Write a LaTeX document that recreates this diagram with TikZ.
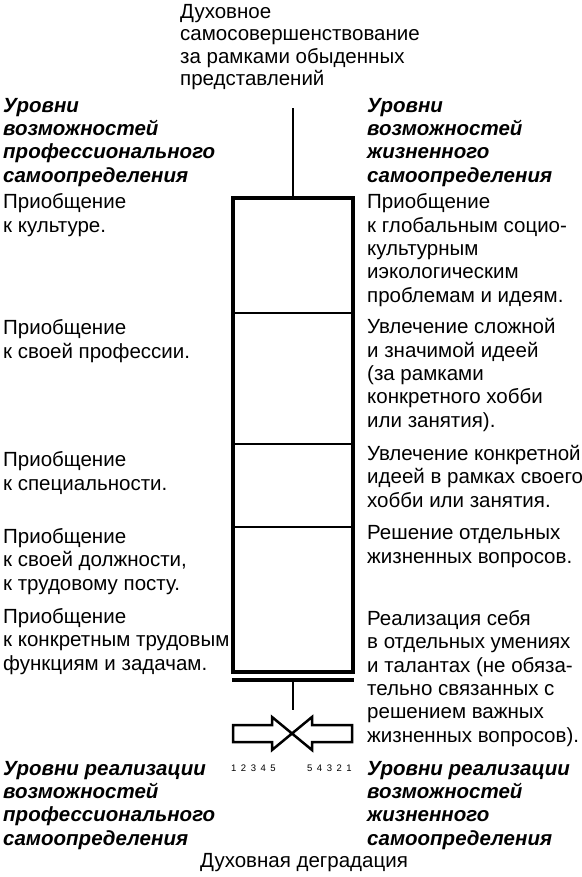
\documentclass[tikz,border=0pt]{standalone}
\usepackage{fontspec}
\setmainfont{Liberation Sans}
\begin{document}
\begin{tikzpicture}[x=1bp,y=-1bp,
  txt/.style={anchor=base west, inner sep=0pt, align=left, font=\fontsize{20.5bp}{23.3bp}\selectfont},
  hdr/.style={txt, font=\fontsize{20.5bp}{23.3bp}\selectfont\bfseries\itshape},
  boxline/.style={line width=3.5bp},
  divline/.style={line width=2.5bp},
  arrowshape/.style={line width=2.5bp, line join=miter},
  nums/.style={anchor=base west, inner sep=0pt, font=\fontsize{9.5bp}{11bp}\selectfont}]
\useasboundingbox (0,0) rectangle (582,877);
% texts (anchored at the baseline of their last line)
\node[txt, font=\fontsize{20.5bp}{22.5bp}\selectfont] (top) at (180,85.5) {Духовное\\самосовершенствование\\за рамками обыденных\\представлений};
\node[hdr] (lhead) at (3,182) {Уровни\\возможностей\\профессионального\\самоопределения};
\node[txt] (l1) at (3,232) {Приобщение\\к культуре.};
\node[txt] (l2) at (3,358) {Приобщение\\к своей профессии.};
\node[txt] (l3) at (3,490) {Приобщение\\к специальности.};
\node[txt] (l4) at (3,590) {Приобщение\\к своей должности,\\к трудовому посту.};
\node[txt] (l5) at (3,670) {Приобщение\\к конкретным трудовым\\функциям и задачам.};
\node[hdr] (lfoot) at (3,845) {Уровни реализации\\возможностей\\профессионального\\самоопределения};
\node[hdr] (rhead) at (367,182) {Уровни\\возможностей\\жизненного\\самоопределения};
\node[txt] (r1) at (367,302) {Приобщение\\к глобальным социо-\\культурным\\иэкологическим\\проблемам и идеям.};
\node[txt] (r2) at (367,427) {Увлечение сложной\\и значимой идеей\\(за рамками\\конкретного хобби\\или занятия).};
\node[txt] (r3) at (367,507) {Увлечение конкретной\\идеей в рамках своего\\хобби или занятия.};
\node[txt] (r4) at (367,563) {Решение отдельных\\жизненных вопросов.};
\node[txt] (r5) at (367,742) {Реализация себя\\в отдельных умениях\\и талантах (не обяза-\\тельно связанных с\\решением важных\\жизненных вопросов).};
\node[hdr] (rfoot) at (367,845) {Уровни реализации\\возможностей\\жизненного\\самоопределения};
\node[txt] (bottom) at (200,867) {Духовная деградация};
\node[nums] (numl) at (231,771) {1\hspace{4.5bp}2\hspace{4.5bp}3\hspace{4.5bp}4\hspace{4.5bp}5};
\node[nums] (numr) at (307,771) {5\hspace{4.5bp}4\hspace{4.5bp}3\hspace{4.5bp}2\hspace{4.5bp}1};
% column
\coordinate (stemtop) at (293,108);
\coordinate (boxtop) at (293,198);
\coordinate (basebar) at (293,680);
\coordinate (stembot) at (293,710);
\coordinate (tip) at (292,733.5);
\draw[divline] (stemtop) -- (boxtop);
\draw[divline] (233,313) -- (353,313);
\draw[divline] (233,444) -- (353,444);
\draw[divline] (233,527) -- (353,527);
\draw[boxline] (233,198) rectangle (353,672);
\draw[boxline] (232,680) -- (354,680);
\draw[divline] (basebar) -- (stembot);
% arrows
\draw[arrowshape] (233,725) -- (272,725) -- (272,717) -- (tip) -- (272,750) -- (272,742) -- (233,742) -- cycle;
\draw[arrowshape] (352,725) -- (312,725) -- (312,717) -- (tip) -- (312,750) -- (312,742) -- (352,742) -- cycle;
\end{tikzpicture}
\end{document}
